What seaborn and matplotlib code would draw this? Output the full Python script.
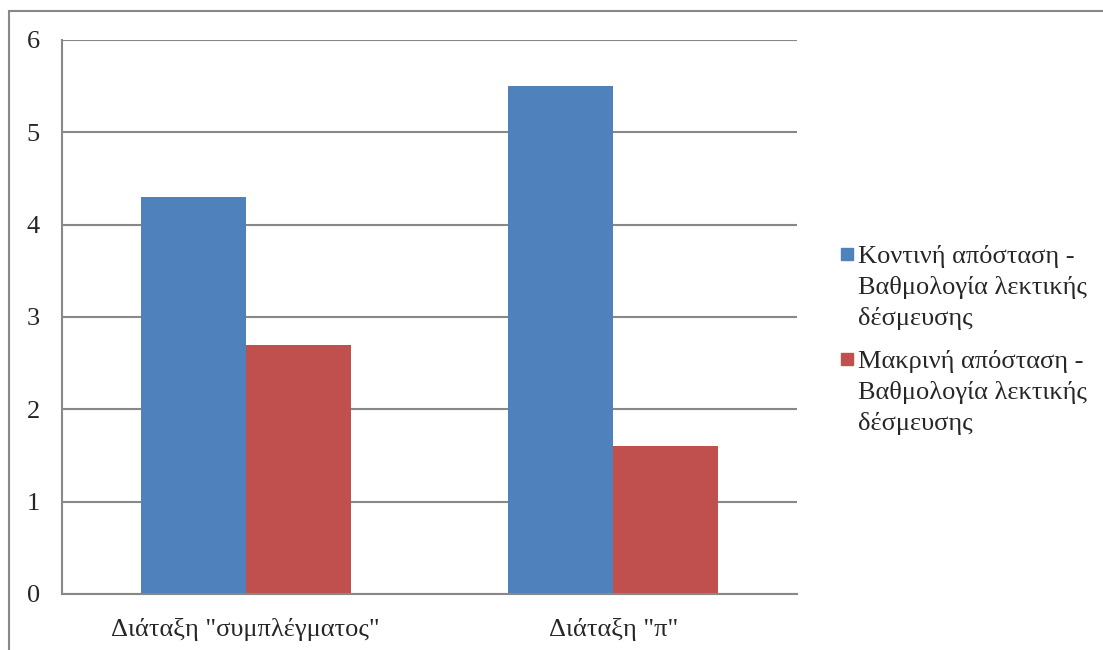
import pandas as pd
import numpy as np
import matplotlib
matplotlib.use("Agg")
import matplotlib.pyplot as plt
import seaborn as sns
from matplotlib.patches import Rectangle

# --- δεδομένα ---
categories = ['Διάταξη "συμπλέγματος"', 'Διάταξη "π"']
series = ["Κοντινή απόσταση -\nΒαθμολογία λεκτικής\nδέσμευσης",
          "Μακρινή απόσταση -\nΒαθμολογία λεκτικής\nδέσμευσης"]
near_scores = [4.3, 5.5]
far_scores = [2.7, 1.6]
y_ticks = [0, 1, 2, 3, 4, 5, 6]

df = pd.DataFrame({
    "cat": categories * 2,
    "series": [series[0]] * 2 + [series[1]] * 2,
    "value": near_scores + far_scores,
})

FONT = "Liberation Serif"
FS = 19
sns.set_style("white")
plt.rcParams["font.family"] = FONT
plt.rcParams["font.size"] = FS

GRID = "#888888"
colors = ["#4F81BD", "#C0504D"]

fig = plt.figure(figsize=(11.03, 6.5), dpi=100)
ax = fig.add_axes([0.0562, 0.0862, 0.7226 - 0.0562, 0.9385 - 0.0862])

sns.barplot(data=df, x="cat", y="value", hue="series", palette=colors,
            width=0.571, saturation=1, ax=ax, legend=False, linewidth=0)

ax.set_ylim(0, 6)
ax.set_xlim(-0.5, 1.5)
ax.set_yticks(y_ticks)
ax.set_yticklabels([str(v) for v in y_ticks], family=FONT, fontsize=FS)
ax.yaxis.grid(True, color=GRID, linewidth=1.5)
ax.set_axisbelow(True)
ax.set_xlabel("")
ax.set_ylabel("")

for s in ["top", "right"]:
    ax.spines[s].set_visible(False)
for s in ["left", "bottom"]:
    ax.spines[s].set_color(GRID)
    ax.spines[s].set_linewidth(1.5)

# κατηγορίες: ετικέτες στο κέντρο, γραμμές στα όρια
ax.set_xticks([0, 1])
ax.set_xticklabels(categories, family=FONT, fontsize=FS)
ax.set_xticks([-0.5, 0.5, 1.5], minor=True)
ax.tick_params(axis="x", which="major", length=0, pad=17)
ax.tick_params(axis="x", which="minor", length=5, width=1.5, color=GRID, direction="out")
ax.tick_params(axis="y", length=5, width=1.5, color=GRID, direction="out", pad=11)

handles = [plt.Line2D([], [], marker="s", linestyle="", markersize=9,
                      markerfacecolor=c, markeredgecolor=c) for c in colors]
leg = fig.legend(handles, series, loc="upper left", bbox_to_anchor=(0.7525, 0.64),
                 frameon=False, handlelength=0.45, handletextpad=0.2,
                 labelspacing=0.75, prop={"family": FONT, "size": FS},
                 borderaxespad=0)
for t in leg.get_texts():
    t.set_linespacing(1.45)
# τετράγωνο δίπλα στην πρώτη γραμμή του κειμένου
for col in leg._legend_handle_box.get_children():
    for row in col.get_children():
        row.align = "top"

# πλαίσιο γραφήματος
fig.patches.append(Rectangle((0.0082, -0.1), 1.2, 1.083, transform=fig.transFigure,
                             fill=False, edgecolor=GRID, linewidth=1.5))

fig.savefig("out.png", dpi=100)
